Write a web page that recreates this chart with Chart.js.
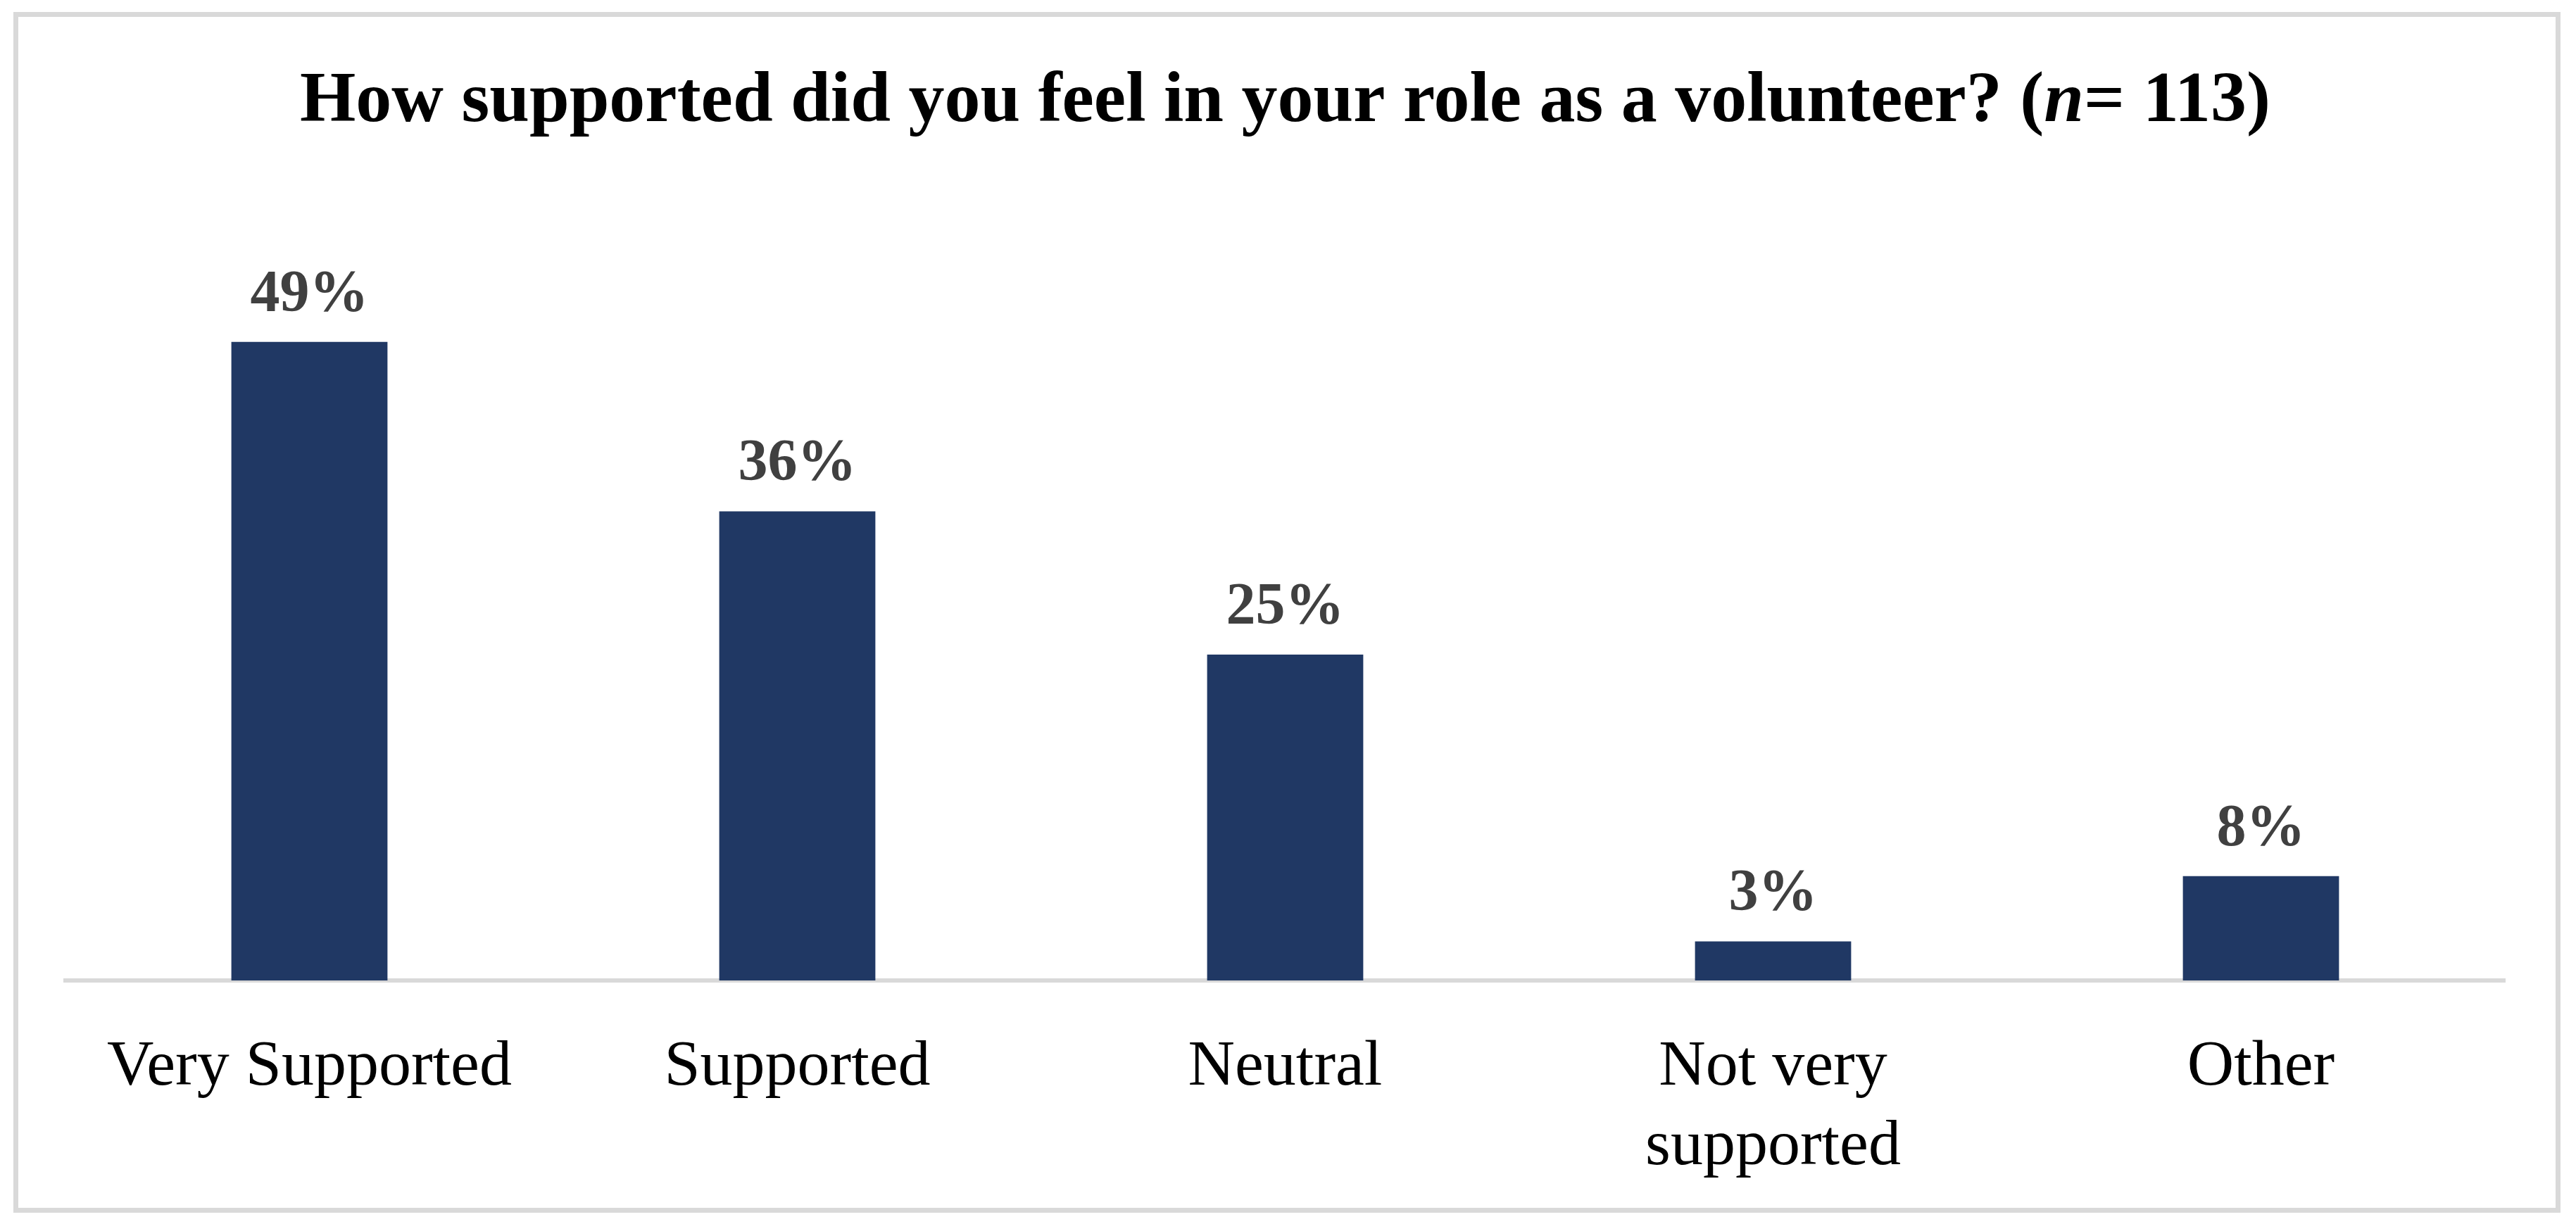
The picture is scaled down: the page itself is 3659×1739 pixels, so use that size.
<!DOCTYPE html>
<html>
<head>
<meta charset="utf-8">
<script src="https://cdn.jsdelivr.net/npm/chart.js@4.4.1/dist/chart.umd.min.js"></script>
<style>
html, body { margin: 0; padding: 0; background: #fff; }
#wrap { position: relative; width: 3659px; height: 1739px; }
#myChart { position: absolute; left: 0; top: 0; }
#frame { position: absolute; left: 19px; top: 17px; width: 3604px; height: 1692px; border: 7px solid #d9d9d9; pointer-events: none; }
</style>
</head>
<body>
<div id="wrap">
  <canvas id="myChart" width="3659" height="1739"></canvas>
  <div id="frame"></div>
</div>
<script>
// data
const labels = ['Very Supported', 'Supported', 'Neutral', ['Not very', 'supported'], 'Other'];
const values = [49, 36, 25, 3, 8];
const yMax = 60;
const titleParts = [
    { text: 'How supported did you feel in your role as a volunteer? (', style: 'normal' },
    { text: 'n', style: 'italic' },
    { text: '= 113)', style: 'normal' }
];

const serif = '"Liberation Serif", "Times New Roman", serif';

// percentage labels above each bar
const barLabels = {
    id: 'barLabels',
    afterDatasetsDraw(chart) {
        const ctx = chart.ctx;
        const meta = chart.getDatasetMeta(0);
        ctx.save();
        ctx.font = 'bold 84px ' + serif;
        ctx.fillStyle = '#404040';
        ctx.textAlign = 'center';
        ctx.textBaseline = 'alphabetic';
        meta.data.forEach(function (bar, i) {
            ctx.fillText(values[i] + '%', bar.x, bar.y - 44);
        });
        ctx.restore();
    }
};

// title with an italic "n"
const mixedTitle = {
    id: 'mixedTitle',
    afterDraw(chart) {
        const ctx = chart.ctx;
        const fontFor = function (style) { return style + ' bold 102px ' + serif; };
        ctx.save();
        ctx.fillStyle = '#000000';
        ctx.textAlign = 'left';
        ctx.textBaseline = 'alphabetic';
        let total = 0;
        titleParts.forEach(function (p) {
            ctx.font = fontFor(p.style);
            p.w = ctx.measureText(p.text).width;
            total += p.w;
        });
        let x = (chart.chartArea.left + chart.chartArea.right) / 2 - total / 2;
        titleParts.forEach(function (p) {
            ctx.font = fontFor(p.style);
            ctx.fillText(p.text, x, 172);
            x += p.w;
        });
        ctx.restore();
    }
};

const ctx = document.getElementById('myChart').getContext('2d');

const data = {
    labels: labels,
    datasets: [{
        data: values,
        backgroundColor: '#203864',
        borderWidth: 0,
        categoryPercentage: 1,
        barPercentage: 0.32
    }]
};

const config = {
    type: 'bar',
    data: data,
    plugins: [barLabels, mixedTitle],
    options: {
        responsive: false,
        animation: false,
        layout: {
            padding: { left: 93, right: 101, top: 282, bottom: 0 }
        },
        plugins: {
            legend: { display: false },
            tooltip: { enabled: false },
            title: { display: false }
        },
        scales: {
            x: {
                grid: { display: false, drawTicks: false },
                border: { display: true, color: '#d9d9d9', width: 6 },
                ticks: {
                    color: '#000000',
                    font: { family: serif, size: 92, lineHeight: 1.22 },
                    padding: 68,
                    maxRotation: 0,
                    autoSkip: false
                },
                afterFit: function (scale) { scale.height = 346; }
            },
            y: {
                display: false,
                min: 0,
                max: yMax
            }
        }
    }
};

const volunteerChart = new Chart(ctx, config);
</script>
</body>
</html>
